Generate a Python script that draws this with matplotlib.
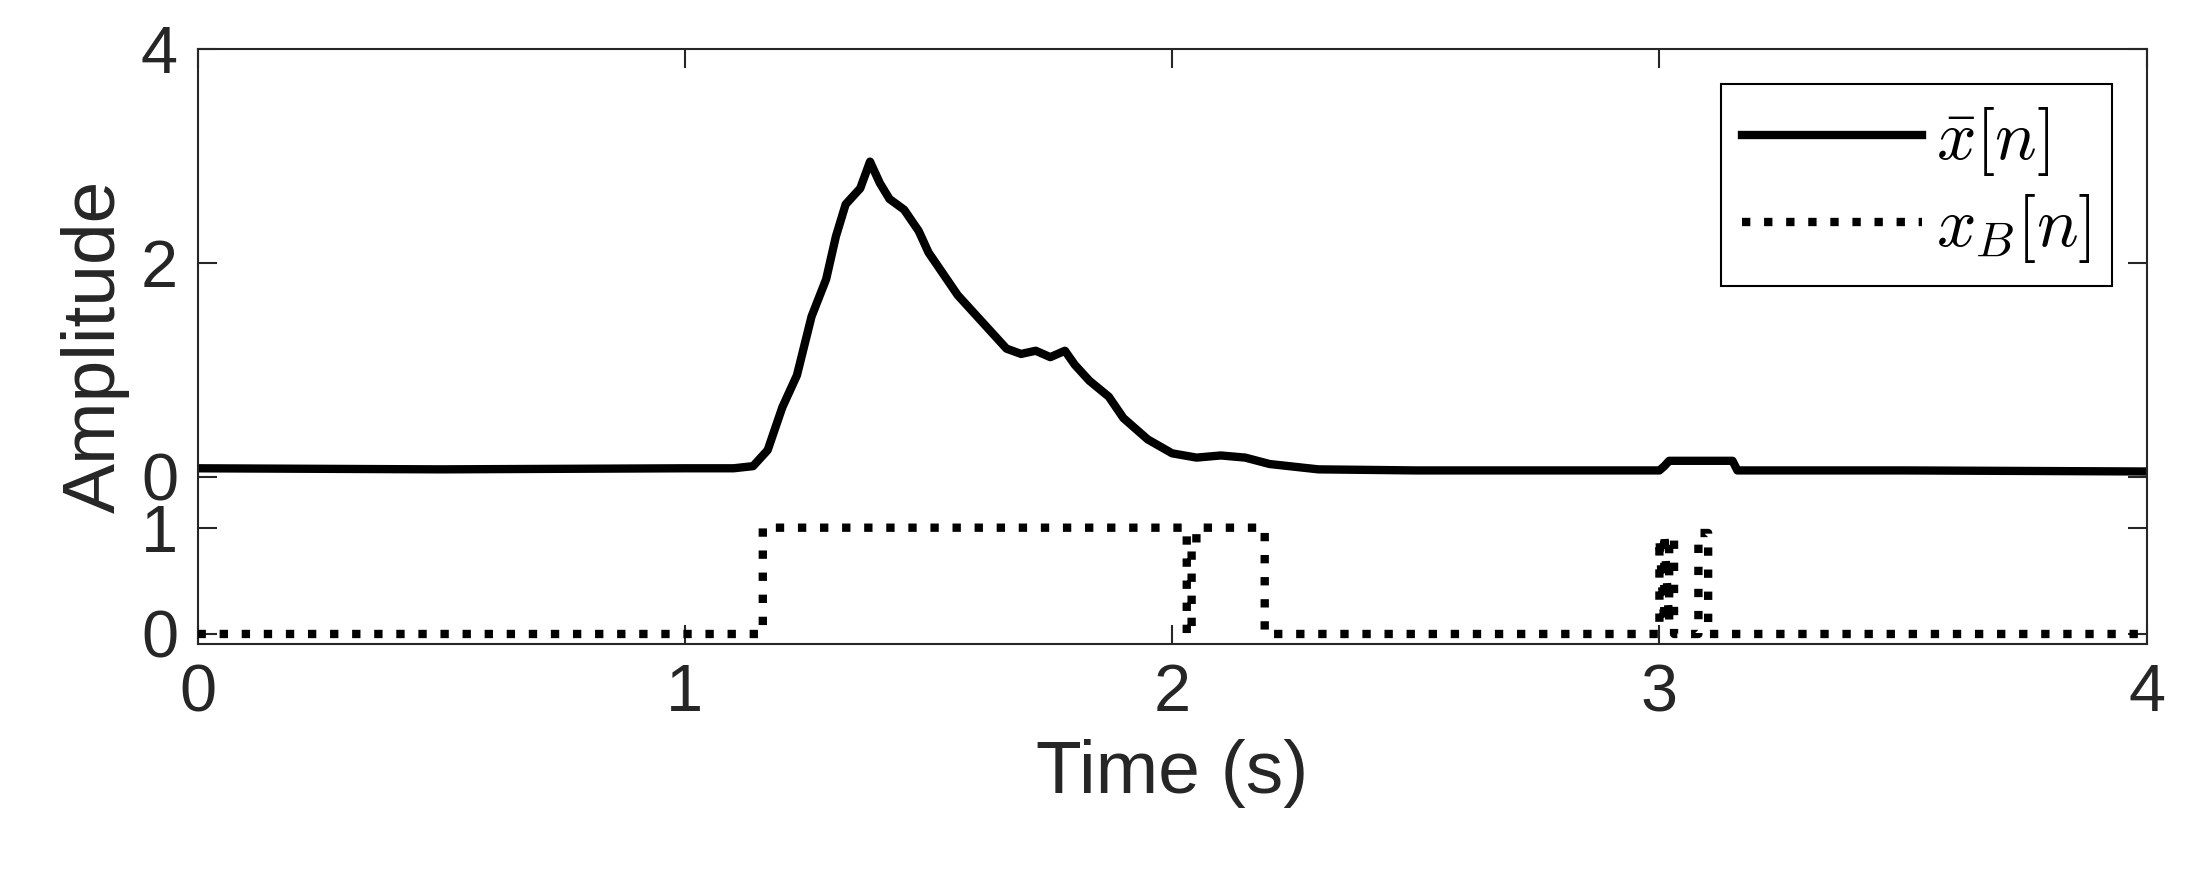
import matplotlib
matplotlib.use("Agg")
import matplotlib.pyplot as plt

plt.rcParams["font.family"] = ["Liberation Sans", "DejaVu Sans"]
plt.rcParams["mathtext.fontset"] = "cm"

# x-bar signal (time s, amplitude)
XBAR_T = [0.0, 0.5, 1.0, 1.1, 1.14, 1.17, 1.2, 1.23, 1.26, 1.29, 1.31, 1.33, 1.35, 1.36,
          1.38, 1.40, 1.42, 1.45, 1.48, 1.50, 1.53, 1.56, 1.60, 1.63, 1.66, 1.69, 1.72,
          1.75, 1.78, 1.80, 1.83, 1.87, 1.90, 1.95, 2.0, 2.05, 2.1, 2.15, 2.2, 2.3,
          2.5, 3.0, 3.01, 3.02, 3.15, 3.16, 3.5, 4.0]
XBAR_Y = [0.08, 0.07, 0.08, 0.08, 0.10, 0.25, 0.65, 0.95, 1.50, 1.85, 2.25, 2.55, 2.65, 2.70,
          2.95, 2.75, 2.60, 2.50, 2.30, 2.10, 1.90, 1.70, 1.50, 1.35, 1.20, 1.15, 1.18,
          1.12, 1.18, 1.05, 0.90, 0.75, 0.55, 0.35, 0.22, 0.18, 0.20, 0.18, 0.12, 0.07,
          0.06, 0.06, 0.10, 0.15, 0.15, 0.06, 0.06, 0.05]

# binary signal
XB_T = [0.0, 1.16, 1.16, 2.03, 2.03, 2.04, 2.04, 2.06, 2.06, 2.19, 2.19, 3.0, 3.0, 3.01,
        3.01, 3.02, 3.02, 3.03, 3.03, 3.08, 3.08, 3.10, 3.10, 4.0]
XB_Y = [0, 0, 1, 1, 0, 0, 0.9, 0.9, 1, 1, 0, 0, 0.9, 0.1,
        0.95, 0.1, 0.9, 0.9, 0, 0, 0.95, 0.95, 0, 0]

fig = plt.figure(figsize=(21.95, 8.82), dpi=100)
rect = [0.090, 0.270, 0.888, 0.674]
ax1 = fig.add_axes(rect)
ax2 = fig.add_axes(rect, facecolor="none")

l1, = ax1.plot(XBAR_T, XBAR_Y, color="black", lw=6)
l2, = ax2.plot(XB_T, XB_Y, color="black", lw=6, ls=":")

ax1.set_xlim(0, 4)
ax1.set_ylim(-1.563, 4)
ax1.set_yticks([0, 2, 4])
ax1.set_xticks([0, 1, 2, 3, 4])
ax2.set_xlim(0, 4)
ax2.set_ylim(-0.093, 5.5)
ax2.set_yticks([0, 1])
ax2.set_xticks([])
for s in ax2.spines.values():
    s.set_visible(False)

for ax in (ax1, ax2):
    ax.tick_params(axis="both", direction="in", length=14, width=1.5, pad=14,
                   labelsize=48, colors="#262626", right=True, top=(ax is ax1))
for s in ax1.spines.values():
    s.set_linewidth(1.5)
    s.set_color("#262626")

ax1.set_xlabel("Time (s)", fontsize=54, color="#262626", labelpad=10)
ax1.set_ylabel("Amplitude", fontsize=54, color="#262626", labelpad=8)

leg = ax1.legend([l1, l2], [r"$\bar{x}[n]$", r"$x_B[n]$"], loc="upper right",
                 fontsize=50, fancybox=False, edgecolor="black", framealpha=1,
                 handlelength=2.6, handletextpad=0.2, borderaxespad=0.5,
                 borderpad=0.3, labelspacing=0.2)
leg.get_frame().set_linewidth(1.5)

fig.savefig("out.png", dpi=100)
